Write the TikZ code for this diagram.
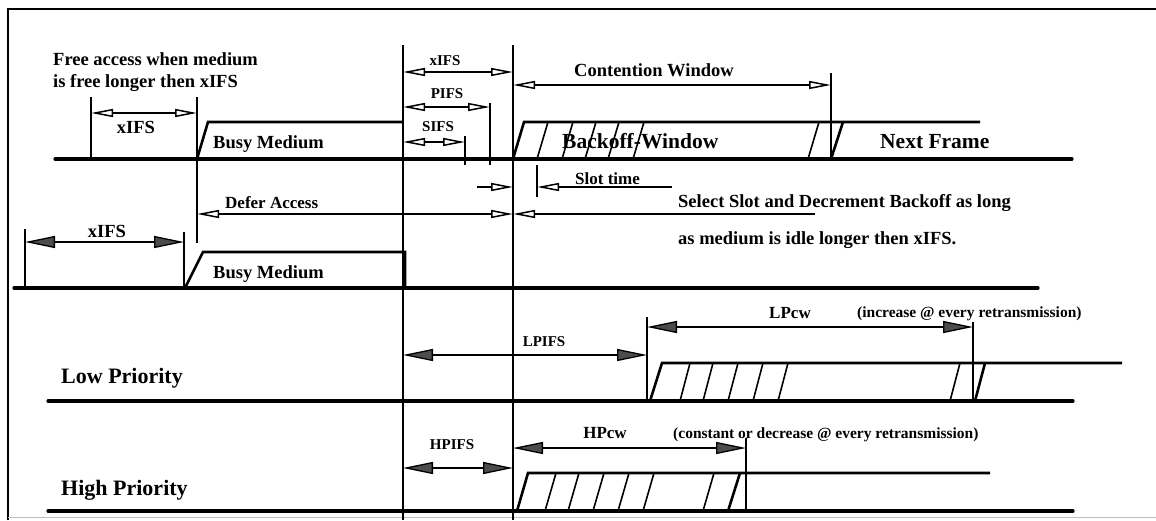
\documentclass[tikz,border=0pt]{standalone}
\usepackage{fontspec}
\setmainfont{Liberation Serif}
\usetikzlibrary{arrows.meta}

\tikzset{
  hol/.tip={Triangle[open,length=22pt,width=8pt,line width=1.5pt]},
  sol/.tip={Triangle[length=30pt,width=12pt,fill=black!70]},
}

\begin{document}
\begin{tikzpicture}[x=1pt,y=-1pt,
    base/.style={line width=3.2pt,line cap=round},
    busy/.style={line width=2.6pt,line join=miter},
    slant/.style={line width=1.6pt},
    tick/.style={line width=1.4pt},
    dim/.style={line width=1.3pt},
    lbl/.style={inner sep=0pt,font=\bfseries\fontsize{18.5}{20}\selectfont},
    big/.style={inner sep=0pt,font=\bfseries\fontsize{21.5}{23}\selectfont},
    prio/.style={inner sep=0pt,font=\bfseries\fontsize{22}{24}\selectfont},
    small/.style={inner sep=0pt,font=\bfseries\fontsize{15}{17}\selectfont},
  ]
  \useasboundingbox (0,0) rectangle (1156,520);
  \draw[line width=1.5pt] (8,520) -- (8,9) -- (1156,9);
  \draw[black!25] (8,517) -- (1156,517);

  \draw[tick] (403,45) -- (403,520);
  \draw[tick] (513,45) -- (513,520);

  % first station
  \node[lbl,anchor=base west] (free1) at (53,65) {Free access when medium};
  \node[lbl,anchor=base west] (free2) at (53,87) {is free longer then xIFS};
  \draw[tick] (91,97) -- (91,159);
  \draw[tick] (197,97) -- (197,243);
  \draw[dim,hol-hol] (91,113) -- (197,113);
  \node[lbl,anchor=base] (xifsa) at (136,133) {xIFS};
  \draw[busy] (197,159) -- (208,122) -- (403,122);
  \node[lbl,anchor=base west] (busya) at (213,148) {Busy Medium};

  \draw[dim,hol-hol] (403,72) -- (513,72);
  \node[small,anchor=base] (xifsb) at (445,65) {xIFS};
  \draw[tick] (490,103) -- (490,165);
  \draw[dim,hol-hol] (403,107) -- (490,107);
  \node[small,anchor=base] (pifs) at (447,98) {PIFS};
  \draw[tick] (465,136) -- (465,165);
  \draw[dim,hol-hol] (403,142) -- (465,142);
  \node[small,anchor=base] (sifs) at (438,131) {SIFS};

  \draw[tick] (831,73) -- (831,159);
  \draw[dim,hol-hol] (513,85) -- (831,85);
  \node[lbl,anchor=base west] (cw) at (574,76) {Contention Window};

  \draw[busy] (513,159) -- (524,122) -- (980,122);
  \foreach \s in {537,562,585,608,633,808}
    \draw[slant] (\s,159) -- ({\s+11},122);
  \draw[busy] (831,159) -- (843,122);
  \node[big,anchor=base west] (bw) at (562,148) {Backoff-Window};
  \node[big,anchor=base west] (nf) at (880,148) {Next Frame};
  \draw[base] (55,159) -- (1072,159);

  \draw[tick] (537,165) -- (537,197);
  \draw[dim,-hol] (477,187) -- (513,187);
  \draw[dim,hol-] (537,187) -- (672,187);
  \node[lbl,font=\bfseries\fontsize{17}{19}\selectfont,anchor=base west] (st) at (575,184) {Slot time};

  \draw[dim,hol-hol] (197,214) -- (513,214);
  \draw[dim,hol-] (513,214) -- (815,214);
  \node[lbl,font=\bfseries\fontsize{17}{19}\selectfont,anchor=base west] (defer) at (225,208) {Defer Access};
  \node[lbl,anchor=base west] (sel1) at (678,207) {Select Slot and Decrement Backoff as long};
  \node[lbl,anchor=base west] (sel2) at (678,244) {as medium is idle longer then xIFS.};

  % second station
  \draw[tick] (25,229) -- (25,288);
  \draw[tick] (184,232) -- (184,288);
  \draw[dim,sol-sol] (25,242) -- (184,242);
  \node[lbl,anchor=base] (xifsc) at (107,237) {xIFS};
  \draw[busy] (185,288) -- (203,252) -- (405,252) -- (405,288);
  \node[lbl,anchor=base west] (busyb) at (213,278) {Busy Medium};
  \draw[base] (14,288) -- (1038,288);

  % low priority
  \draw[tick] (647,317) -- (647,401);
  \draw[tick] (973,322) -- (973,401);
  \draw[dim,sol-sol] (647,327) -- (973,327);
  \node[lbl,font=\bfseries\fontsize{17}{19}\selectfont,anchor=base] (lpcw) at (790,318) {LPcw};
  \node[small,font=\bfseries\fontsize{15.5}{17}\selectfont,anchor=base west] (inc) at (857,317) {(increase @ every retransmission)};
  \draw[dim,sol-sol] (403,355) -- (647,355);
  \node[small,anchor=base] (lpifs) at (544,346) {LPIFS};
  \draw[busy] (650,401) -- (662,363) -- (1122,363);
  \foreach \s in {680,703,728,753,778,950}
    \draw[slant] (\s,401) -- ({\s+10},363);
  \draw[busy] (975,401) -- (985,363);
  \node[prio,anchor=base west] (low) at (61,383) {Low Priority};
  \draw[base] (48,401) -- (1073,401);

  % high priority
  \node[small,anchor=base] (hpifs) at (452,449) {HPIFS};
  \draw[dim,sol-sol] (403,468) -- (513,468);
  \draw[tick] (746,438) -- (746,511);
  \draw[dim,sol-sol] (513,448) -- (746,448);
  \node[lbl,font=\bfseries\fontsize{17}{19}\selectfont,anchor=base] (hpcw) at (605,438) {HPcw};
  \node[small,font=\bfseries\fontsize{15.5}{17}\selectfont,anchor=base west] (const) at (673,438) {(constant or decrease @ every retransmission)};
  \draw[busy] (517,511) -- (528,473) -- (990,473);
  \foreach \s in {545,568,593,618,643,703}
    \draw[slant] (\s,511) -- ({\s+11},473);
  \draw[busy] (728,511) -- (740,473);
  \node[prio,anchor=base west] (high) at (61,495) {High Priority};
  \draw[base] (48,511) -- (1073,511);
\end{tikzpicture}
\end{document}
